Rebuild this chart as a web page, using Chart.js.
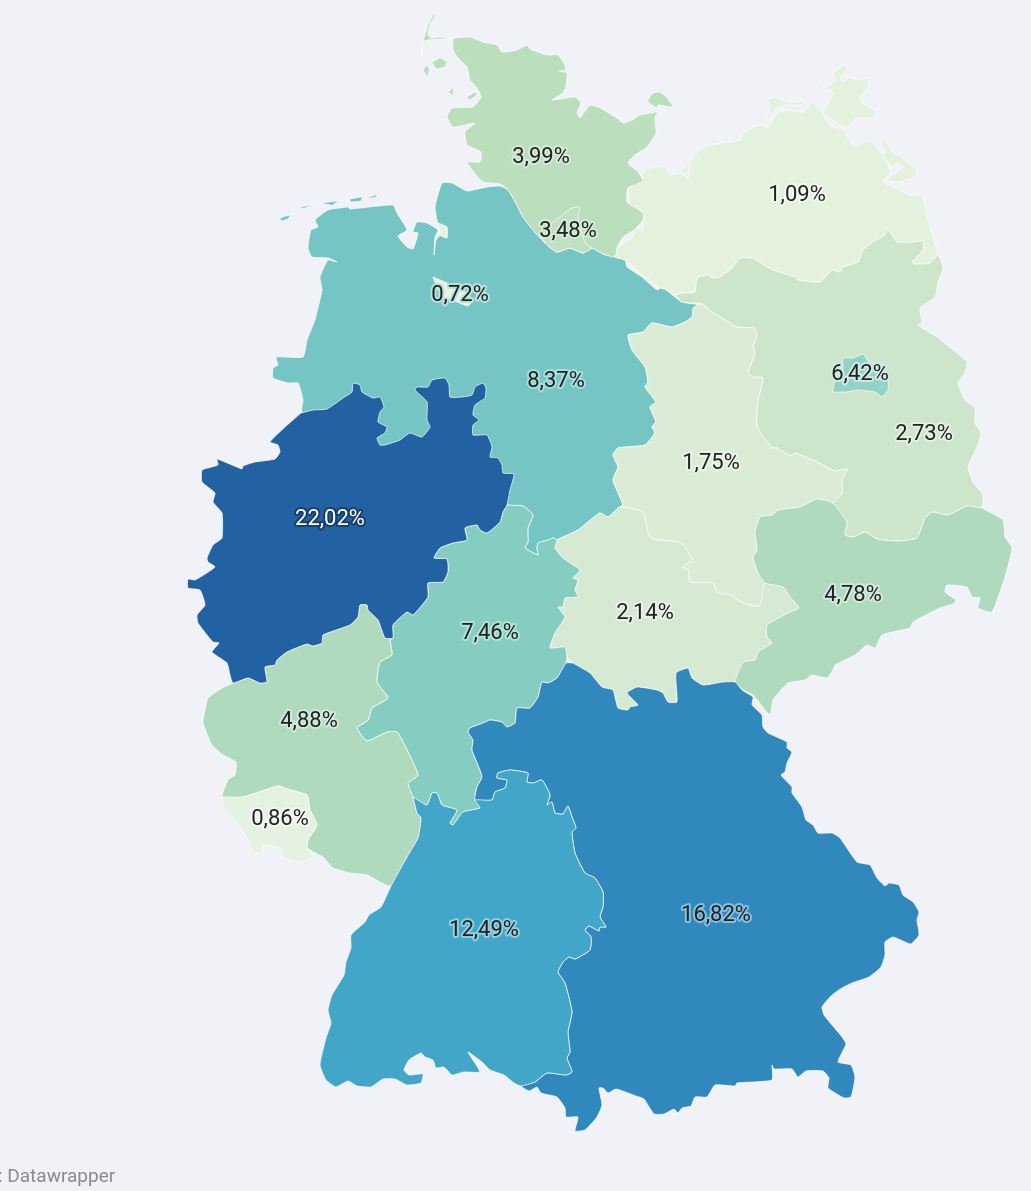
<!DOCTYPE html>
<html><head><meta charset="utf-8">
<style>html,body{margin:0;padding:0;background:#f0f2f8;overflow:hidden}canvas{display:block}</style>
<script src="https://cdn.jsdelivr.net/npm/chart.js@4"></script></head>
<body><canvas id="c" width="1031" height="1191"></canvas>
<script>
const niedersachsen=[[315,320],[322,290],[320,277],[328,260],[337,262],[328,258],[312,257],[308,248],[311,230],[318,227],[315,220],[328,210],[348,207],[350,209],[393,205],[397,213],[407,230],[398,236],[407,247],[413,249],[418,233],[413,232],[417,222],[427,223],[438,230],[435,237],[434,255],[436,240],[440,235],[437,220],[435,207],[442,183],[452,183],[467,191],[487,187],[500,186],[508,190],[518,207],[523,217],[533,230],[547,245],[557,252],[570,248],[583,253],[592,248],[603,254],[615,257],[625,260],[627,267],[642,277],[657,290],[662,287],[670,293],[682,302],[698,305],[692,317],[685,322],[672,327],[652,323],[643,332],[628,335],[632,350],[645,367],[648,382],[645,387],[656,402],[650,407],[656,422],[652,427],[655,433],[645,445],[618,448],[613,455],[618,467],[613,480],[623,505],[618,508],[608,517],[600,513],[588,522],[578,530],[557,540],[553,538],[548,540],[538,543],[537,548],[538,555],[525,548],[528,542],[528,528],[533,515],[523,506],[508,505],[400,456],[302,412],[303,400],[298,383],[288,383],[273,378],[273,368],[278,365],[276,357],[303,357],[307,340],[315,320]];
const ostfrieslandInseln=[[[280,218],[290,215],[288,219],[282,221]],[[299,207],[315,205],[305,208]],[[322,203],[338,201],[333,205]],[[350,199],[362,197],[361,201],[351,202]],[[369,197],[376,195],[377,197],[371,198]]];
const mecklenburg=[[628,188],[642,180],[643,172],[653,167],[665,167],[670,175],[680,173],[688,178],[690,163],[700,148],[710,145],[723,143],[740,140],[742,133],[760,125],[767,128],[777,113],[787,110],[803,112],[813,103],[820,110],[830,125],[843,130],[855,147],[868,140],[878,148],[887,163],[890,173],[883,182],[897,188],[910,195],[922,195],[925,207],[930,227],[938,255],[930,263],[915,264],[912,262],[923,250],[923,241],[913,242],[897,242],[887,228],[885,235],[873,242],[863,250],[858,262],[843,267],[840,272],[832,270],[820,282],[798,280],[795,277],[773,270],[752,258],[740,258],[732,268],[720,277],[712,278],[708,275],[697,278],[695,292],[683,293],[673,295],[667,290],[660,288],[640,273],[625,260],[615,257],[618,247],[633,237],[635,228],[643,230],[643,215],[630,205],[628,188]];
const mecklenburgInseln=[[[680,172],[688,164],[690,167],[687,173]],[[763,127],[770,110],[768,100],[773,97],[790,102],[805,101],[803,105],[787,105],[777,108],[770,117],[765,128]],[[833,73],[845,65],[847,70],[840,78],[843,82],[848,77],[857,80],[867,78],[868,87],[860,97],[862,103],[877,112],[873,118],[857,118],[847,128],[840,125],[830,118],[823,112],[828,103],[833,93],[827,87],[837,80]],[[823,77],[820,88],[822,90],[825,78]],[[880,138],[885,140],[893,152],[903,158],[917,170],[915,177],[897,182],[887,180],[893,175],[903,167],[897,162],[892,167],[882,155],[887,152]]];
const brandenburg=[[675,295],[683,293],[695,292],[697,278],[708,275],[712,278],[720,277],[732,268],[740,258],[752,258],[773,270],[795,277],[798,280],[820,282],[832,270],[840,272],[843,267],[858,262],[863,250],[873,242],[885,235],[887,228],[897,242],[913,242],[923,241],[923,250],[912,262],[915,264],[930,263],[938,255],[943,267],[938,283],[935,297],[920,308],[922,323],[918,325],[937,337],[957,353],[967,362],[965,373],[958,383],[965,400],[975,408],[975,423],[981,433],[977,447],[968,467],[973,482],[983,495],[982,508],[967,506],[948,515],[933,512],[925,518],[917,538],[897,541],[877,539],[865,532],[853,537],[845,535],[847,522],[833,503],[842,493],[842,480],[847,469],[835,471],[817,462],[795,453],[790,456],[777,448],[772,448],[757,427],[758,400],[763,378],[753,377],[748,373],[755,353],[753,347],[757,335],[754,328],[737,327],[722,318],[712,312],[702,304],[682,302],[675,295]];
const sachsenAnhalt=[[628,335],[643,332],[652,323],[672,327],[685,322],[692,317],[693,308],[698,305],[702,304],[712,312],[722,318],[737,327],[754,328],[757,335],[753,347],[755,353],[748,373],[753,377],[763,378],[758,400],[757,427],[772,448],[777,448],[790,456],[795,453],[817,462],[835,471],[847,469],[842,480],[842,493],[833,503],[817,499],[800,507],[778,510],[772,515],[760,517],[755,532],[757,550],[753,557],[758,573],[765,583],[763,597],[760,606],[743,603],[730,595],[717,593],[713,583],[690,582],[688,570],[682,567],[692,560],[685,547],[678,542],[652,539],[648,532],[643,512],[623,507],[618,508],[623,505],[613,480],[618,467],[613,455],[618,448],[645,445],[655,433],[652,427],[656,422],[650,407],[656,402],[645,387],[648,382],[645,367],[632,350],[628,335]];
const thueringen=[[618,508],[623,507],[643,512],[648,532],[652,539],[678,542],[685,547],[692,560],[682,567],[688,570],[690,582],[713,583],[717,593],[730,595],[743,603],[760,606],[765,583],[783,587],[790,597],[799,608],[790,612],[767,625],[767,637],[772,643],[758,652],[755,660],[743,662],[735,682],[723,682],[703,685],[692,678],[688,668],[676,673],[677,702],[668,702],[663,693],[657,690],[637,687],[627,693],[638,705],[630,707],[628,710],[618,708],[613,690],[602,687],[590,673],[573,663],[567,657],[565,647],[550,648],[555,633],[565,617],[558,607],[563,607],[565,598],[578,597],[575,590],[578,580],[573,578],[580,570],[563,558],[555,548],[557,540],[578,530],[588,522],[600,513],[608,517],[618,508]];
const hessen=[[507,505],[523,506],[533,515],[528,528],[528,542],[525,548],[538,555],[537,548],[538,543],[548,540],[553,538],[557,540],[555,548],[563,558],[580,570],[573,578],[578,580],[575,590],[578,597],[565,598],[563,607],[558,607],[565,617],[555,633],[550,648],[565,647],[567,657],[566,663],[557,678],[548,683],[542,682],[538,697],[530,708],[517,708],[515,723],[507,727],[502,722],[490,720],[483,723],[470,728],[468,732],[473,740],[472,750],[478,765],[482,777],[477,787],[475,795],[480,808],[463,812],[453,825],[450,823],[457,810],[442,805],[437,793],[432,793],[427,805],[413,797],[408,783],[418,775],[407,750],[397,732],[387,732],[367,741],[357,728],[368,720],[372,708],[388,698],[377,682],[380,662],[392,655],[390,640],[393,638],[393,625],[407,612],[413,615],[428,597],[428,583],[443,582],[448,572],[447,559],[434,558],[440,548],[453,543],[467,540],[465,528],[477,525],[480,530],[487,533],[500,522],[503,512],[507,505]];
const sachsen=[[982,508],[1003,520],[1005,537],[1012,548],[1005,577],[992,612],[978,608],[980,598],[972,597],[967,587],[947,585],[945,592],[956,600],[953,604],[940,608],[913,622],[910,628],[882,635],[875,648],[867,645],[855,655],[835,665],[833,670],[827,678],[812,675],[805,680],[788,683],[773,700],[770,715],[753,695],[743,690],[735,682],[743,662],[755,660],[758,652],[772,643],[767,637],[767,625],[790,612],[799,608],[790,597],[783,587],[765,583],[758,573],[753,557],[757,550],[755,532],[760,517],[772,515],[778,510],[800,507],[817,499],[833,503],[847,522],[845,535],[853,537],[865,532],[877,539],[897,541],[917,538],[925,518],[933,512],[948,515],[967,506],[982,508]];
const bayern=[[573,663],[590,673],[602,687],[613,690],[618,708],[628,710],[630,707],[638,705],[627,693],[637,687],[657,690],[663,693],[668,702],[677,702],[676,673],[688,668],[692,678],[703,685],[723,682],[735,682],[742,690],[753,697],[752,705],[762,715],[763,727],[768,733],[787,742],[787,748],[792,752],[787,763],[785,772],[781,775],[792,787],[792,793],[802,807],[806,820],[813,825],[818,833],[832,833],[840,838],[857,862],[870,865],[877,878],[885,886],[889,883],[899,885],[903,895],[913,902],[919,912],[917,920],[919,935],[911,944],[905,942],[893,937],[885,942],[885,955],[881,967],[869,977],[852,983],[842,988],[832,995],[822,1007],[824,1015],[832,1025],[842,1037],[846,1044],[838,1062],[851,1065],[855,1077],[851,1097],[844,1098],[828,1088],[829,1078],[823,1071],[806,1071],[798,1077],[792,1069],[774,1069],[772,1065],[772,1080],[737,1083],[735,1086],[715,1085],[707,1097],[695,1097],[691,1106],[682,1108],[678,1113],[674,1109],[664,1114],[654,1114],[644,1099],[636,1096],[616,1089],[608,1093],[603,1088],[599,1088],[602,1105],[597,1117],[585,1130],[575,1131],[578,1117],[566,1117],[565,1108],[557,1097],[541,1093],[537,1087],[529,1091],[521,1086],[535,1082],[547,1073],[566,1075],[572,1072],[567,1058],[570,1052],[568,1032],[572,1012],[565,983],[558,972],[563,962],[569,957],[575,959],[590,950],[591,937],[585,930],[589,926],[599,931],[600,927],[606,927],[600,917],[603,907],[603,892],[595,878],[585,873],[575,853],[572,832],[576,828],[572,817],[568,806],[563,814],[555,813],[552,802],[547,805],[550,795],[542,780],[533,783],[527,782],[528,773],[510,770],[498,773],[497,778],[507,780],[505,788],[495,792],[492,800],[475,800],[477,787],[482,777],[478,765],[472,750],[473,740],[468,732],[470,728],[483,723],[490,720],[502,722],[507,727],[515,723],[517,708],[530,708],[538,697],[542,682],[548,683],[557,678],[566,663],[573,663]];
const rheinlandPfalz=[[393,638],[385,638],[378,620],[368,610],[367,605],[360,605],[358,617],[350,625],[323,635],[322,643],[313,646],[307,644],[287,652],[277,660],[275,665],[265,667],[267,682],[260,683],[248,678],[233,683],[222,688],[208,698],[205,710],[203,723],[212,745],[223,755],[236,762],[235,775],[228,780],[222,797],[243,797],[265,790],[278,786],[290,790],[307,795],[310,810],[317,825],[308,840],[307,848],[323,857],[333,868],[350,873],[367,875],[390,886],[407,857],[418,838],[421,818],[417,813],[413,797],[408,783],[418,775],[407,750],[397,732],[387,732],[367,741],[357,728],[368,720],[372,708],[388,698],[377,682],[380,662],[392,655],[390,640],[393,638]];
const saarland=[[222,797],[243,797],[265,790],[278,786],[290,790],[307,795],[310,810],[317,825],[308,840],[307,848],[313,857],[300,862],[283,858],[280,848],[263,845],[262,853],[253,852],[247,838],[237,822],[223,807],[222,797]];
const nordrheinWestfalen=[[301,413],[313,410],[327,409],[343,398],[352,392],[353,383],[360,385],[362,392],[373,398],[380,397],[384,407],[380,412],[378,422],[387,427],[385,433],[377,438],[380,445],[385,445],[400,440],[410,433],[422,437],[430,427],[427,420],[427,402],[415,390],[417,387],[428,387],[432,380],[445,378],[449,385],[450,397],[462,397],[472,395],[475,387],[483,383],[486,388],[485,398],[475,405],[473,415],[479,420],[473,425],[473,435],[487,435],[492,447],[490,457],[498,458],[502,465],[503,473],[514,474],[510,490],[507,505],[503,512],[500,522],[487,533],[480,530],[477,525],[465,528],[467,540],[453,543],[440,548],[434,558],[447,559],[448,572],[443,582],[428,583],[428,597],[413,615],[407,612],[393,625],[393,638],[385,638],[378,620],[368,610],[367,605],[360,605],[358,617],[350,625],[323,635],[322,643],[313,646],[307,644],[287,652],[277,660],[275,665],[265,667],[267,682],[260,683],[248,678],[233,683],[230,675],[227,663],[212,652],[219,643],[213,642],[198,623],[197,615],[205,605],[200,590],[188,588],[188,579],[195,580],[215,567],[208,562],[207,558],[213,545],[222,538],[222,513],[213,502],[215,493],[202,482],[202,470],[218,465],[217,459],[242,469],[243,466],[255,462],[275,459],[280,452],[278,445],[270,442],[285,427],[301,413]];
const badenWuerttemberg=[[413,797],[427,805],[432,793],[437,793],[442,805],[457,810],[450,823],[453,825],[463,812],[480,808],[475,800],[492,800],[495,792],[505,788],[507,780],[497,778],[498,773],[510,770],[528,773],[527,782],[533,783],[542,780],[550,795],[547,805],[552,802],[555,813],[563,814],[568,806],[572,817],[576,828],[572,832],[575,853],[585,873],[595,878],[603,892],[603,907],[600,917],[606,927],[600,927],[599,931],[589,926],[585,930],[591,937],[590,950],[575,959],[569,957],[563,962],[558,972],[565,983],[572,1012],[568,1032],[570,1052],[567,1058],[572,1072],[566,1075],[547,1073],[535,1082],[521,1086],[514,1083],[504,1075],[490,1070],[482,1062],[468,1052],[480,1072],[464,1072],[452,1075],[444,1067],[436,1068],[433,1060],[425,1057],[421,1053],[409,1060],[404,1070],[409,1075],[423,1074],[421,1083],[407,1085],[395,1079],[383,1079],[371,1087],[357,1086],[348,1081],[336,1087],[326,1080],[320,1065],[326,1038],[331,1023],[328,1010],[332,995],[344,975],[346,962],[351,948],[351,935],[365,922],[369,915],[381,907],[391,886],[407,857],[418,838],[421,818],[417,813],[413,797]];
const schleswigHolstein=[[453,38],[470,37],[483,42],[497,45],[502,52],[517,50],[527,45],[530,49],[547,55],[558,55],[564,63],[566,70],[559,71],[567,73],[566,87],[563,93],[552,100],[575,97],[581,103],[577,113],[580,118],[590,105],[600,108],[617,118],[623,123],[632,120],[640,115],[650,113],[658,112],[655,117],[656,133],[647,147],[635,155],[628,163],[638,172],[643,181],[628,188],[627,202],[643,213],[643,220],[634,230],[623,237],[617,248],[615,257],[603,254],[592,248],[583,253],[570,248],[557,252],[547,245],[533,230],[523,217],[518,207],[508,190],[500,184],[483,182],[472,170],[467,162],[480,162],[481,152],[467,145],[465,132],[475,123],[453,127],[447,117],[452,108],[473,107],[481,97],[477,88],[470,80],[467,67],[458,58],[453,50],[453,38]];
const schleswigHolsteinInseln=[[[436,13],[433,15],[428,25],[425,35],[422,45],[422,55],[423,42],[428,40],[443,39],[452,39],[440,37],[431,38],[428,34],[431,22]],[[432,62],[440,58],[447,62],[445,67],[437,69]],[[427,65],[423,70],[428,77],[429,70]],[[467,97],[475,92],[477,95],[470,100]],[[448,92],[454,88],[453,95]],[[648,100],[653,93],[660,92],[667,98],[673,107],[658,105],[657,108],[650,104]]];
const hamburg=[[560,217],[572,208],[580,207],[578,217],[585,243],[592,248],[583,253],[570,248],[557,252],[547,245],[540,233],[560,217]];
const bremen=[[433,277],[447,283],[460,288],[473,300],[468,306],[457,302],[443,298],[438,290],[433,277]];
const bremerhaven=[[438,223],[447,227],[447,238],[440,235],[438,223]];
const berlin=[[833,390],[835,380],[843,370],[843,358],[853,358],[863,354],[867,360],[880,368],[888,380],[888,390],[882,397],[875,392],[857,390],[847,392],[833,392],[833,390]];

const regionShapes=[
 [niedersachsen,'#75c5c4'],...ostfrieslandInseln.map(p=>[p,'#75c5c4']),
 [mecklenburg,'#e4f1dd'],...mecklenburgInseln.map(p=>[p,'#e4f1dd']),
 [brandenburg,'#cde6cb'],[sachsenAnhalt,'#daebd6'],[thueringen,'#d5e9d3'],[hessen,'#85cdc1'],
 [sachsen,'#afdabd'],[bayern,'#3088bd'],[rheinlandPfalz,'#afdabd'],[saarland,'#e6f2e1'],
 [nordrheinWestfalen,'#2262a2'],[badenWuerttemberg,'#42a6c8'],
 [schleswigHolstein,'#bbdebd'],...schleswigHolsteinInseln.map(p=>[p,'#bbdebd']),
 [hamburg,'#bfe0c1'],[bremen,'#e9f3e2'],[bremerhaven,'#e9f3e2'],[berlin,'#93d3c6']
];

const shareLabels=['3,99%','3,48%','1,09%','0,72%','8,37%','6,42%','2,73%','1,75%','22,02%','7,46%','2,14%','4,78%','4,88%','0,86%','12,49%','16,82%'];
const labelX=[541,568,797,460,556,860,924,711,330,490,645,853,309,280,484,716];
const labelY=[157,231,195,295,381,374,434,463,519,633,613,595,721,819,930,915];
const labelText=['#222','#222','#222','#222','#222','#222','#222','#222','#fff','#222','#222','#222','#222','#222','#222','#222'];
const labelHalo=['#d3ebd5','#d3ebd5','#f2f8ee','#b7e2dd','#a6dedc','#cdeae4','#e3f1e1','#ebf4e8','#163f69','#b2e2d8','#e7f3e5','#cfeadb','#cfeadb','#f3f9f0','#90cde0','#86bfde'];
const sourceText=': Datawrapper';

const labelPlugin={id:'labels',afterDatasetsDraw(chart){
  const {ctx,scales:{x,y}}=chart;ctx.save();
  ctx.font='22px Roboto';ctx.textAlign='center';ctx.textBaseline='middle';ctx.lineJoin='round';
  shareLabels.forEach((t,i)=>{
    const px=x.getPixelForValue(labelX[i]),py=y.getPixelForValue(labelY[i]);
    ctx.strokeStyle=labelHalo[i];ctx.lineWidth=4;ctx.strokeText(t,px,py);
    ctx.fillStyle=labelText[i];ctx.fillText(t,px,py);
  });
  ctx.font='19px Roboto';ctx.textAlign='left';ctx.fillStyle='#8b8b8b';
  ctx.fillText(sourceText,x.getPixelForValue(-2),y.getPixelForValue(1177));
  ctx.restore();
}};
const bgPlugin={id:'bg',beforeDraw(chart){const c=chart.ctx;c.save();c.fillStyle='#f0f2f8';c.fillRect(0,0,chart.width,chart.height);c.restore();}};

// Chart.js paints the first dataset last, so the list is reversed to keep enclaves on top.
new Chart(document.getElementById('c'),{
  type:'scatter',
  data:{datasets:regionShapes.slice().reverse().map(([pts,color])=>({
    data:pts.map(p=>({x:p[0],y:p[1]})),showLine:true,tension:0.15,fill:'shape',
    backgroundColor:color,borderColor:'rgba(255,255,255,0.7)',borderWidth:1,pointRadius:0,pointHoverRadius:0,clip:false
  }))},
  options:{responsive:false,animation:false,devicePixelRatio:1,
    layout:{padding:0},
    events:[],
    plugins:{legend:{display:false},tooltip:{enabled:false},title:{display:false}},
    scales:{x:{type:'linear',min:0,max:1031,display:false},y:{type:'linear',min:0,max:1191,reverse:true,display:false}}
  },
  plugins:[bgPlugin,labelPlugin]
});
</script></body></html>
